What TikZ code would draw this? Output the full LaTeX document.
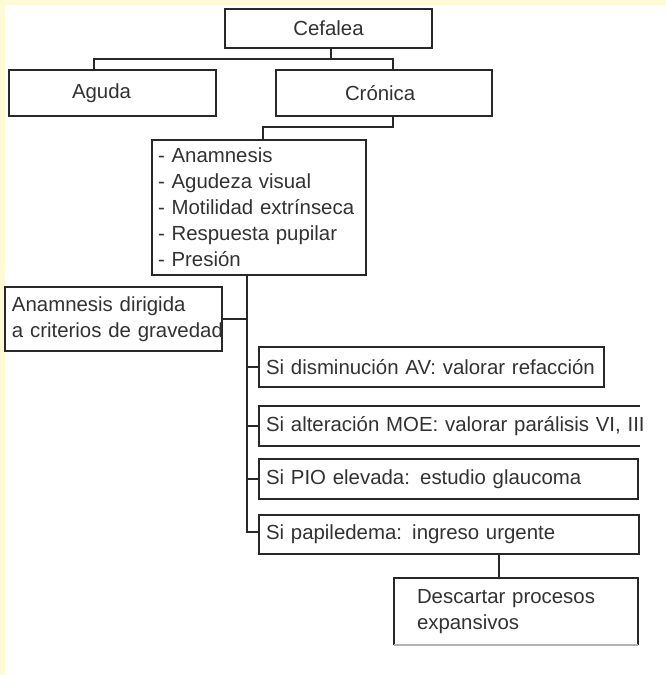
\documentclass[tikz,border=0pt]{standalone}
\usepackage{fontspec}
\setmainfont{Liberation Sans}
\usetikzlibrary{calc}
\definecolor{bgyellow}{RGB}{255,250,214}
\definecolor{ink}{RGB}{40,40,40}
\definecolor{txtc}{RGB}{50,50,50}
\tikzset{
  boxbase/.style={anchor=north west, inner ysep=0pt, outer sep=0pt,
    font=\fontsize{15.3pt}{19.5pt}\selectfont, text=txtc, align=left},
  framed/.style={boxbase, draw=ink, line width=1.3pt},
  conn/.style={draw=ink, line width=1.3pt},
}
\begin{document}
\begin{tikzpicture}[x=0.75pt, y=-0.75pt]
\useasboundingbox (0,0) rectangle (666,675);
\fill[bgyellow] (0,0) rectangle (666,675);
\fill[white] (5,5) rectangle (666,675);

% boxes
\node[framed, minimum width=155.25pt, minimum height=29.25pt, text width=155.25pt, inner xsep=0pt, align=center] (cef) at (225,9) {Cefalea};
\node[framed, minimum width=155.25pt, minimum height=34.5pt, text width=60.75pt, inner xsep=47.25pt] (agu) at (9,70) {\mbox{Aguda}};
\node[framed, minimum width=162pt, minimum height=34.5pt, text width=58.5pt, inner xsep=51.75pt] (cro) at (276,70) {\mbox{Crónica}};
\node[framed, minimum width=160.5pt, minimum height=101.25pt, text width=151.5pt, inner xsep=4.5pt] (lst) at (152,140)
  {\mbox{- Anamnesis}\\ \mbox{- Agudeza visual}\\ \mbox{- Motilidad extrínseca}\\ \mbox{- Respuesta pupilar}\\ \mbox{- Presión}};
\node[framed, minimum width=162.75pt, minimum height=48pt, text width=152.25pt, inner xsep=5.25pt] (anm) at (5,287)
  {\mbox{Anamnesis dirigida}\\ \mbox{a criterios de gravedad}};
\node[framed, minimum width=258.75pt, minimum height=30pt, text width=248.25pt, inner xsep=5.25pt] (dis) at (259,347)
  {\mbox{Si disminución AV: valorar refacción}};
\node[boxbase, minimum width=285.75pt, minimum height=30pt, text width=275.25pt, inner xsep=5.25pt] (moe) at (259,406)
  {\mbox{Si alteración MOE: valorar parálisis VI, III}};
\node[framed, minimum width=284.25pt, minimum height=30pt, text width=273.75pt, inner xsep=5.25pt] (pio) at (259,459)
  {\mbox{Si PIO elevada: estudio glaucoma}};
\node[framed, minimum width=285pt, minimum height=29.25pt, text width=274.5pt, inner xsep=5.25pt] (pap) at (259,515)
  {\mbox{Si papiledema: ingreso urgente}};
\node[boxbase, minimum width=183pt, minimum height=50.25pt, text width=148.5pt, inner xsep=17.25pt] (des) at (394,578)
  {\mbox{Descartar procesos}\\ \mbox{expansivos}};

% partial borders of clipped boxes
\draw[conn] (moe.north east) -- (moe.north west) -- (moe.south west) -- (moe.south east);
\draw[conn] (des.south west) -- (des.north west) -- (des.north east) -- (des.south east);
\draw[line width=1pt, draw=black!30] (des.south west) -- (des.south east);

% junction coordinates
\coordinate (jm) at (331,59);
\coordinate (ja) at (94,59);
\coordinate (jc) at (393,59);
\coordinate (k1) at (393,127);
\coordinate (k2) at (263,127);
\coordinate (tr) at (247,532);
\coordinate (dx) at (499,560);

% connectors
\draw[conn] (cef.south -| jm) -- (jm);
\draw[conn] (ja |- agu.north) -- (ja) -- (jc) -- (jc |- cro.north);
\draw[conn] (cro.south -| k1) -- (k1) -- (k2) -- (k2 |- lst.north);
\draw[conn] (lst.south -| tr) -- (tr) -- (tr -| pap.west);
\draw[conn] (anm.east) -- (anm.east -| tr);
\draw[conn] (dis.west) -- (dis.west -| tr);
\draw[conn] (moe.west) -- (moe.west -| tr);
\draw[conn] (pio.west) -- (pio.west -| tr);
\draw[conn] (pap.south -| dx) -- (des.north -| dx);
\end{tikzpicture}
\end{document}
